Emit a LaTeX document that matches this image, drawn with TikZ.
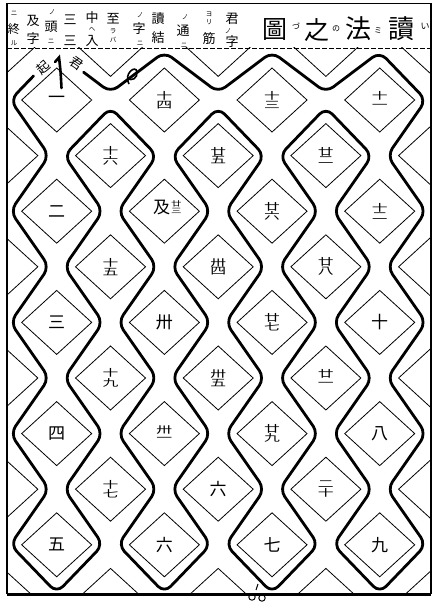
\documentclass[tikz,border=0pt]{standalone}
\usepackage{fontspec}
\usepackage{graphicx}
\newfontfamily\jp{Noto Sans CJK JP}
\usetikzlibrary{calc}
% stacked ligature numeral: #1 over #2, font size #3, horizontal stretch #4, gap #5
\newcommand\ligg[5]{\vbox{\offinterlineskip\fontsize{#3}{#3}\selectfont
  \hbox{\scalebox{#4}[1]{#1}}\kern#5\hbox{\scalebox{#4}[1]{#2}}}}
\newcommand\lig[2]{\ligg{#1}{#2}{9.6}{1.65}{0.8pt}}
\newcommand\ligone[1]{\ligg{#1}{一}{9.6}{1.65}{3.5pt}}
\begin{document}
\begin{tikzpicture}[x=1pt,y=-1pt,
  wall/.style={line width=2.8pt, rounded corners=9pt, line join=round, line cap=round},
  thinline/.style={line width=0.8pt},
  framel/.style={line width=1.1pt},
  num/.style={font=\jp\fontsize{17}{17}\selectfont, inner sep=0pt},
  hd/.style={font=\jp\fontsize{13}{13}\selectfont, inner sep=0pt},
  kana/.style={font=\jp\fontsize{6.5}{6.5}\selectfont, inner sep=0pt},
  ttl/.style={font=\jp\fontsize{25}{25}\selectfont, inner sep=0pt},
  lbl/.style={font=\jp\fontsize{13}{13}\selectfont, inner sep=0pt}]
\useasboundingbox (0,0) rectangle (434,610);
\fill[white] (0,0) rectangle (434,610);
% lattice points
\foreach \j in {0,...,8}{\foreach \i in {0,...,10}{
  \pgfmathsetmacro\xx{2.84+53.84*\j}
  \pgfmathsetmacro\yy{44.4+55.6*\i}
  \coordinate (L-\j-\i) at ({\xx-7.5},\yy);
  \coordinate (R-\j-\i) at ({\xx+7.5},\yy);
  \coordinate (U-\j-\i) at (\xx,{\yy-7.5});
  \coordinate (D-\j-\i) at (\xx,{\yy+7.5});
  \coordinate (C-\j-\i) at (\xx,\yy);
}}
% thin inner diamonds
\begin{scope}
\clip (7,48) rectangle (431,593);
\foreach \j in {0,...,8}{\foreach \i in {0,...,10}{
  \pgfmathtruncatemacro\pp{mod(\j+\i,2)}
  \pgfmathsetmacro\xx{2.84+53.84*\j}
  \pgfmathsetmacro\yy{44.4+55.6*\i}
  \ifnum\pp=0
    \draw[thinline] ({\xx-35},\yy) -- (\xx,{\yy-32}) -- ({\xx+35},\yy) -- (\xx,{\yy+32}) -- cycle;
  \fi
}}
\end{scope}
% frame
\draw[framel] (7,594) -- (7,3.5) -- (431,3.5) -- (431,594);
\draw[line width=3.5pt] (7,594.5) -- (431,594.5);
\draw[line width=0.9pt, dash pattern=on 5pt off 2pt] (7,48) -- (431,48);
% serpentine wall
\coordinate (P1) at ($(D-1-0)!0.5!(U-2-1)$);
\coordinate (P2) at ($(R-0-1)!0.5!(D-1-0)$);
\draw[wall] (P1) -- (U-2-1) -- (D-3-0) -- (U-4-1) -- (D-5-0) -- (U-6-1) -- (D-7-0) -- (L-8-1)
 -- (R-7-2) -- (L-8-3) -- (R-7-4) -- (L-8-5) -- (R-7-6) -- (L-8-7) -- (R-7-8) -- (L-8-9) -- (U-7-10)
 -- (R-6-9) -- (L-7-8) -- (R-6-7) -- (L-7-6) -- (R-6-5) -- (L-7-4) -- (R-6-3) -- (L-7-2) -- (D-6-1)
 -- (R-5-2) -- (L-6-3) -- (R-5-4) -- (L-6-5) -- (R-5-6) -- (L-6-7) -- (R-5-8) -- (L-6-9) -- (U-5-10)
 -- (R-4-9) -- (L-5-8) -- (R-4-7) -- (L-5-6) -- (R-4-5) -- (L-5-4) -- (R-4-3) -- (L-5-2) -- (D-4-1)
 -- (R-3-2) -- (L-4-3) -- (R-3-4) -- (L-4-5) -- (R-3-6) -- (L-4-7) -- (R-3-8) -- (L-4-9) -- (U-3-10)
 -- (R-2-9) -- (L-3-8) -- (R-2-7) -- (L-3-6) -- (R-2-5) -- (L-3-4) -- (R-2-3) -- (L-3-2) -- (D-2-1)
 -- (R-1-2) -- (L-2-3) -- (R-1-4) -- (L-2-5) -- (R-1-6) -- (L-2-7) -- (R-1-8) -- (L-2-9) -- (U-1-10)
 -- (R-0-9) -- (L-1-8) -- (R-0-7) -- (L-1-6) -- (R-0-5) -- (L-1-4) -- (R-0-3) -- (L-1-2) -- (R-0-1) -- (P2);
% start marker and small marks
\draw[line width=2.6pt, line cap=round] (55,62) -- (59,57.5) .. controls (60.5,70) .. (61.5,88);
\draw[line width=1.6pt] (129,84) .. controls (123,74) and (136,64) .. (137,72) .. controls (138,78) and (131,82) .. (128,78);
\draw[line width=1pt] (258,584) -- (256,590);
\draw[line width=1pt] (252,597) circle (3.2);
\draw[line width=1pt] (262,598) circle (3.2);
\node[lbl, rotate=40] (start1) at (43,68) {起};
\node[lbl, rotate=-35] (start2) at (76,63) {君};
% cell numbers
\node[num] (n-1-1) at (C-1-1) {一};
\node[num] (n-3-1) at (C-3-1) {\lig{十}{四}};
\node[num] (n-5-1) at (C-5-1) {\lig{十}{三}};
\node[num] (n-7-1) at (C-7-1) {\ligone{十}};
\node[num] (n-2-2) at (C-2-2) {\lig{十}{六}};
\node[num] (n-4-2) at (C-4-2) {\lig{廿}{五}};
\node[num] (n-6-2) at (C-6-2) {\lig{廿}{二}};
\node[num] (n-1-3) at (C-1-3) {二};
\node[num] (n-3-3) at ($(C-3-3)+(3,-4)$) {\hbox{及\kern1pt\ligg{廿}{三}{7}{1.5}{0.6pt}}};
\node[num] (n-5-3) at (C-5-3) {\lig{廿}{六}};
\node[num] (n-7-3) at (C-7-3) {\lig{十}{二}};
\node[num] (n-2-4) at (C-2-4) {\lig{十}{五}};
\node[num] (n-4-4) at (C-4-4) {\lig{卅}{四}};
\node[num] (n-6-4) at (C-6-4) {\lig{廿}{八}};
\node[num] (n-1-5) at (C-1-5) {三};
\node[num] (n-3-5) at (C-3-5) {卅};
\node[num] (n-5-5) at (C-5-5) {\lig{廿}{七}};
\node[num] (n-7-5) at (C-7-5) {十};
\node[num] (n-2-6) at (C-2-6) {\lig{十}{九}};
\node[num] (n-4-6) at (C-4-6) {\lig{卅}{五}};
\node[num] (n-6-6) at (C-6-6) {\ligone{廿}};
\node[num] (n-1-7) at (C-1-7) {四};
\node[num] (n-3-7) at (C-3-7) {\ligone{卅}};
\node[num] (n-5-7) at (C-5-7) {\lig{廿}{九}};
\node[num] (n-7-7) at (C-7-7) {八};
\node[num] (n-2-8) at (C-2-8) {\lig{十}{七}};
\node[num] (n-4-8) at (C-4-8) {六};
\node[num] (n-6-8) at (C-6-8) {\lig{二}{十}};
\node[num] (n-1-9) at (C-1-9) {五};
\node[num] (n-3-9) at (C-3-9) {六};
\node[num] (n-5-9) at (C-5-9) {七};
\node[num] (n-7-9) at (C-7-9) {九};
% title
\node[ttl] (t1) at (275,30) {圖};
\node[kana, font=\jp\fontsize{8}{8}\selectfont] (t2) at (296,26) {づ};
\node[ttl] (t3) at (317,30) {之};
\node[kana, font=\jp\fontsize{8}{8}\selectfont] (t4) at (336,29) {の};
\node[ttl, font=\jp\fontsize{26}{26}\selectfont] (t5) at (358,29) {法};
\node[kana, font=\jp\fontsize{8}{8}\selectfont] (t6) at (378,31) {ミ};
\node[ttl, font=\jp\fontsize{26}{26}\selectfont] (t7) at (401,29) {讀};
\node[kana, font=\jp\fontsize{9}{9}\selectfont] (t8) at (425,26) {い};
% header columns
\node[hd] (h1a) at (232,19) {君};
\node[kana] (h1b) at (228,31) {ノ};
\node[hd] (h1c) at (232,42) {字};
\node[kana] (h2a) at (209,14) {ヨ};
\node[kana] (h2b) at (209,22) {リ};
\node[hd] (h2c) at (209,39) {筋};
\node[kana] (h3a) at (185,17) {ノ};
\node[hd] (h3b) at (183,31) {通};
\node[kana] (h3c) at (184,45) {ニ};
\node[hd] (h4a) at (158,19) {讀};
\node[hd] (h4b) at (158,38) {結};
\node[kana] (h5a) at (140,15) {ノ};
\node[hd] (h5b) at (139,29) {字};
\node[kana] (h5c) at (140,43) {ニ};
\node[hd] (h6a) at (113,19) {至};
\node[kana] (h6b) at (113,31) {ラ};
\node[kana] (h6c) at (113,40) {バ};
\node[hd] (h7a) at (92,18) {中};
\node[kana] (h7b) at (92,29) {ヘ};
\node[hd] (h7c) at (92,41) {入};
\node[hd] (h8a) at (70,20) {三};
\node[hd] (h8b) at (70,41) {三};
\node[kana] (h9a) at (52,12) {ノ};
\node[hd] (h9b) at (51,27) {頭};
\node[kana] (h9c) at (51,41) {ニ};
\node[hd] (h10a) at (33,21) {及};
\node[hd] (h10b) at (33,39) {字};
\node[kana] (h11a) at (14,13) {ニ};
\node[hd, font=\jp\fontsize{12}{12}\selectfont] (h11b) at (14,29) {終};
\node[kana] (h11c) at (14,43) {ル};
\end{tikzpicture}
\end{document}
